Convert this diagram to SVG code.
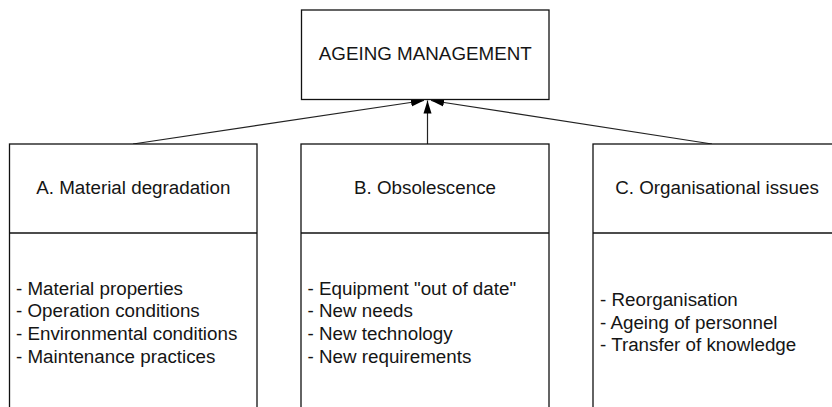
<svg xmlns="http://www.w3.org/2000/svg" width="832" height="407" viewBox="0 0 832 407">
<style>
.box{fill:#fff;stroke:#111;stroke-width:1.3}
.div{stroke:#111;stroke-width:1.3}
.t{font-family:"Liberation Sans",Arial,sans-serif;font-size:18.8px;fill:#151515}
.c{text-anchor:middle}
.con{stroke:#222;stroke-width:1.2;fill:none}
</style>
<defs>
<marker id="ah" markerWidth="14" markerHeight="10" refX="13" refY="5" orient="auto" markerUnits="userSpaceOnUse">
<path d="M0,1 L13,5 L0,9 z" fill="#000"/>
</marker>
</defs>
<rect width="832" height="407" fill="#fff"/>
<g id="connectors">
<line class="con" x1="133" y1="144" x2="424" y2="100.5" marker-end="url(#ah)"/>
<line class="con" x1="427.5" y1="144" x2="427.5" y2="100.5" marker-end="url(#ah)"/>
<line class="con" x1="712" y1="144" x2="431" y2="100.5" marker-end="url(#ah)"/>
</g>
<g id="ageing-management">
<rect class="box" x="301.5" y="10" width="247.5" height="89.5"/>
<text class="t c" x="425.3" y="60">AGEING MANAGEMENT</text>
</g>
<g id="material-degradation">
<rect class="box" x="9.5" y="144" width="247.5" height="280"/>
<line class="div" x1="9.5" y1="233" x2="257" y2="233"/>
<text class="t c" x="133.3" y="194">A. Material degradation</text>
<text class="t" x="16" y="294.5">- Material properties</text>
<text class="t" x="16" y="317.2">- Operation conditions</text>
<text class="t" x="16" y="339.9">- Environmental conditions</text>
<text class="t" x="16" y="362.6">- Maintenance practices</text>
</g>
<g id="obsolescence">
<rect class="box" x="301" y="144" width="248" height="280"/>
<line class="div" x1="301" y1="233" x2="549" y2="233"/>
<text class="t c" x="425" y="194">B. Obsolescence</text>
<text class="t" x="307.5" y="294.5">- Equipment "out of date"</text>
<text class="t" x="307.5" y="317.2">- New needs</text>
<text class="t" x="307.5" y="339.9">- New technology</text>
<text class="t" x="307.5" y="362.6">- New requirements</text>
</g>
<g id="organisational-issues">
<rect class="box" x="593" y="144" width="248" height="280"/>
<line class="div" x1="593" y1="233" x2="841" y2="233"/>
<text class="t c" x="717" y="194">C. Organisational issues</text>
<text class="t" x="600" y="306">- Reorganisation</text>
<text class="t" x="600" y="328.5">- Ageing of personnel</text>
<text class="t" x="600" y="351">- Transfer of knowledge</text>
</g>
</svg>
